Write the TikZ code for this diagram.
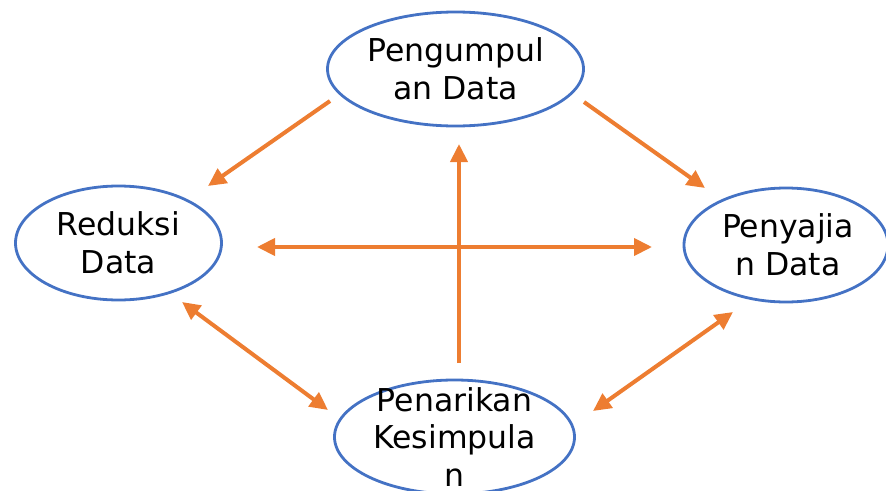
\documentclass[tikz,border=0pt]{standalone}
\usepackage{fontspec}
\setmainfont{DejaVu Sans}
\usetikzlibrary{arrows.meta,shapes.geometric}
\definecolor{ell}{HTML}{4472C4}
\definecolor{arr}{HTML}{ED7D31}
\begin{document}
\begin{tikzpicture}[x=1pt,y=-1pt,
  ellbox/.style={draw=ell, line width=2.8pt, ellipse, inner sep=0pt},
  lbl/.style={align=center, inner sep=0pt, font=\fontsize{31.5}{37.5}\selectfont},
  onearrow/.style={draw=arr, line width=4pt, -{Triangle[length=18pt,width=17pt]}},
  twoarrow/.style={draw=arr, line width=4pt, {Triangle[length=18pt,width=17pt]}-{Triangle[length=18pt,width=17pt]}}]
\path[use as bounding box] (0,0) rectangle (886,490);
\clip (0,0) rectangle (886,490);
% ellipses
\node[ellbox, minimum width=256pt, minimum height=114pt] (etop) at (455.5,69) {};
\node[ellbox, minimum width=206pt, minimum height=114pt] (eleft) at (118.5,243) {};
\node[ellbox, minimum width=204pt, minimum height=114pt] (eright) at (786,245) {};
\node[ellbox, minimum width=240pt, minimum height=114pt] (ebottom) at (454.5,437) {};
% labels
\node[lbl] (top) at (etop.center) {Pengumpul\\an Data};
\node[lbl] (left) at (eleft.center) {Reduksi\\Data};
\node[lbl] (right) at ([xshift=2pt]eright.center) {Penyajia\\n Data};
\node[lbl] (bottom) at (ebottom.center) {Penarikan\\Kesimpula\\n};
% arrow end points
\coordinate (tl1) at (330,101);
\coordinate (tl2) at (208,186);
\coordinate (tr1) at (584,102);
\coordinate (tr2) at (705,188);
\coordinate (h1) at (257,247);
\coordinate (h2) at (652,247);
\coordinate (v1) at (459,363);
\coordinate (v2) at (459,144);
\coordinate (bl1) at (182,302);
\coordinate (bl2) at (328,410);
\coordinate (br1) at (593,411);
\coordinate (br2) at (733,312);
% arrows
\draw[onearrow] (tl1) -- (tl2);
\draw[onearrow] (tr1) -- (tr2);
\draw[twoarrow] (h1) -- (h2);
\draw[onearrow] (v1) -- (v2);
\draw[twoarrow] (bl1) -- (bl2);
\draw[twoarrow] (br1) -- (br2);
\end{tikzpicture}
\end{document}
